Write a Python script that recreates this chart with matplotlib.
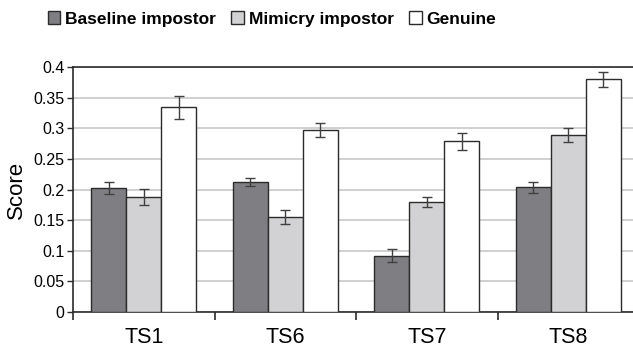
import matplotlib
matplotlib.use("Agg")
import matplotlib.pyplot as plt
import numpy as np

plt.rcParams["font.family"] = ["Liberation Sans", "DejaVu Sans"]

categories = ["TS1", "TS6", "TS7", "TS8"]
series = ["Baseline impostor", "Mimicry impostor", "Genuine"]
baseline = [0.202, 0.212, 0.092, 0.204]
baseline_err = [0.010, 0.006, 0.011, 0.009]
mimicry = [0.188, 0.155, 0.180, 0.289]
mimicry_err = [0.013, 0.012, 0.008, 0.011]
genuine = [0.334, 0.297, 0.279, 0.380]
genuine_err = [0.019, 0.011, 0.014, 0.012]

_COLORS = ["#7f7f83", "#d2d2d4", "#ffffff"]
_EDGE = "#2b2b2b"

fig = plt.figure(figsize=(6.33, 3.48), dpi=100)
ax = fig.add_axes([73 / 633, 1 - 312 / 348, 560 / 633, 245 / 348])

x = np.arange(len(categories))
w = 0.247
for i, (vals, errs, name) in enumerate(zip([baseline, mimicry, genuine],
                                           [baseline_err, mimicry_err, genuine_err],
                                           series)):
    ax.bar(x + (i - 1) * w, vals, w, color=_COLORS[i], edgecolor=_EDGE,
           linewidth=1.0, label=name, zorder=3)
    ax.errorbar(x + (i - 1) * w, vals, yerr=errs, fmt="none", ecolor="#404040",
                elinewidth=1.0, capsize=3.5, capthick=1.0, zorder=4)

ax.set_xlim(-0.5, 3.5 - 6 / 141.5)
ax.set_ylim(0, 0.4)
ax.set_yticks(np.arange(0, 0.401, 0.05))
ax.set_yticklabels(["0", "0.05", "0.1", "0.15", "0.2", "0.25", "0.3", "0.35", "0.4"])
ax.yaxis.grid(True, color="#c8c8c8", lw=1.2, zorder=0)
ax.set_xticks(x)
ax.set_xticklabels(categories, fontsize=15.5)
ax.set_xticks([-0.5, 0.5, 1.5, 2.5], minor=True)
ax.tick_params(axis="x", which="major", length=0, pad=11)
ax.tick_params(axis="x", which="minor", length=6, width=1.2, color=_EDGE)
ax.tick_params(axis="y", length=4, width=1.0, color=_EDGE, labelsize=11.5, pad=2)
ax.set_ylabel("Score", fontsize=16, labelpad=5)
for s in ["left", "bottom", "top"]:
    ax.spines[s].set_color(_EDGE)
    ax.spines[s].set_linewidth(1.2)
ax.spines["right"].set_visible(False)

fig.legend(loc="center", bbox_to_anchor=(272 / 633, 1 - 19 / 348), ncol=3,
           frameon=False, prop={"weight": "bold", "size": 12.5},
           handlelength=0.7, handleheight=0.7, handletextpad=0.3,
           columnspacing=0.9, borderaxespad=0)

fig.savefig("out.png", dpi=100)
